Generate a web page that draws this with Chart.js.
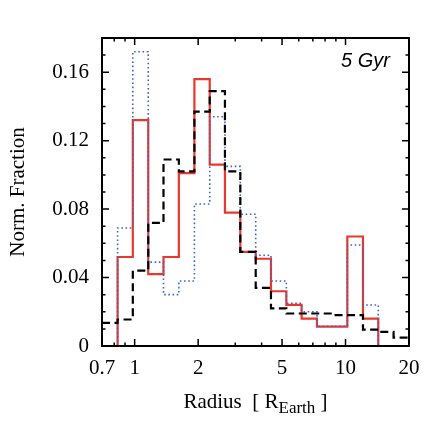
<!DOCTYPE html>
<html>
<head>
<meta charset="utf-8">
<script src="https://cdn.jsdelivr.net/npm/chart.js@4/dist/chart.umd.min.js"></script>
<style>
html,body{margin:0;padding:0;background:#fff;}
canvas{display:block;}
</style>
</head>
<body>
<canvas id="c" width="436" height="425"></canvas>
<script>
// Bin edges (R_Earth), log-spaced histogram bins
const binEdges = [0.70, 0.83, 0.98, 1.16, 1.37, 1.62, 1.92, 2.27, 2.68, 3.17, 3.75,
                  4.43, 5.24, 6.19, 7.32, 8.66, 10.2, 12.1, 14.3, 16.9, 20.0];
// Normalised fractions per bin (null = no bar drawn)
const redValues   = [null, 0.052, 0.132, 0.042, 0.052, 0.101, 0.156, 0.106, 0.078, 0.055, 0.051,
                     0.032, 0.024, 0.016, 0.0113, 0.0113, 0.064, 0.016, null, null];
const blueValues  = [null, 0.069, 0.172, 0.049, 0.030, 0.038, 0.083, 0.134, 0.105, 0.077, 0.053,
                     0.038, 0.025, 0.020, 0.0115, 0.0115, 0.059, 0.024, null, null];
const blackValues = [0.0135, 0.0155, 0.044, 0.072, 0.109, 0.102, 0.137, 0.149, 0.102, 0.055, 0.034,
                     0.022, 0.019, 0.019, 0.019, 0.018, 0.018, 0.0096, 0.0082, 0.0049];
const xTickLabels = [0.7, 1, 2, 5, 10, 20];
const xMajorTicks = [1, 2, 5, 10];
const xMinorTicks = [0.8, 0.9, 3, 4, 6, 7, 8, 9];
const yTickLabels = [0, 0.04, 0.08, 0.12, 0.16];
const yMinorStep = 0.01;
const yMax = 0.18;
const panelLabel = '5 Gyr';

function stepPoints(edges, vals, riseFromZero) {
  const pts = [];
  let first = vals.findIndex(v => v !== null);
  let last = first;
  while (last + 1 < vals.length && vals[last + 1] !== null) last++;
  if (riseFromZero) pts.push({x: edges[first], y: 0});
  for (let i = first; i <= last; i++) pts.push({x: edges[i], y: vals[i]});
  const endEdge = edges[last + 1];
  if (endEdge < edges[edges.length - 1]) pts.push({x: endEdge, y: 0});
  else pts.push({x: endEdge, y: vals[last]});
  return pts;
}

const SERIF = '"Liberation Serif", "DejaVu Serif", serif';

const framePlugin = {
  id: 'frame',
  afterDraw(chart) {
    const ctx = chart.ctx;
    const a = chart.chartArea;
    const xs = chart.scales.x, ys = chart.scales.y;
    ctx.save();
    ctx.strokeStyle = '#000';
    // ticks
    ctx.lineWidth = 1.5;
    const tick = (px, len, horiz) => {
      ctx.beginPath();
      if (horiz) {
        ctx.moveTo(a.left, px); ctx.lineTo(a.left + len, px);
        ctx.moveTo(a.right, px); ctx.lineTo(a.right - len, px);
      } else {
        ctx.moveTo(px, a.bottom); ctx.lineTo(px, a.bottom - len);
        ctx.moveTo(px, a.top); ctx.lineTo(px, a.top + len);
      }
      ctx.stroke();
    };
    for (let v = 0; v <= yMax + 1e-9; v += yMinorStep) {
      const vv = Math.round(v * 100) / 100;
      const major = yTickLabels.some(t => Math.abs(t - vv) < 1e-9);
      tick(ys.getPixelForValue(vv), major ? 7 : 3.5, true);
    }
    xMajorTicks.forEach(v => tick(xs.getPixelForValue(v), 7, false));
    xMinorTicks.forEach(v => tick(xs.getPixelForValue(v), 3.5, false));
    // frame
    ctx.lineWidth = 2;
    ctx.strokeRect(a.left, a.top, a.right - a.left, a.bottom - a.top);
    // panel label
    ctx.fillStyle = '#000';
    ctx.font = 'italic 20px "Liberation Sans", Arial, sans-serif';
    ctx.textAlign = 'right';
    ctx.textBaseline = 'alphabetic';
    ctx.fillText(panelLabel, a.right - 19, a.top + 29);
    // x title with subscript
    const big = '21px ' + SERIF, small = '17px ' + SERIF;
    const t1 = 'Radius  [ R', t2 = 'Earth', t3 = ' ]';
    ctx.font = big; const w1 = ctx.measureText(t1).width, w3 = ctx.measureText(t3).width;
    ctx.font = small; const w2 = ctx.measureText(t2).width;
    const total = w1 + w2 + w3;
    let x0 = (a.left + a.right) / 2 - total / 2;
    const base = 408;
    ctx.textAlign = 'left';
    ctx.font = big; ctx.fillText(t1, x0, base);
    ctx.font = small; ctx.fillText(t2, x0 + w1, base + 5);
    ctx.font = big; ctx.fillText(t3, x0 + w1 + w2, base);
    ctx.restore();
  }
};

new Chart(document.getElementById('c'), {
  type: 'line',
  data: {
    datasets: [
      {
        label: 'red',
        data: stepPoints(binEdges, redValues, true),
        borderColor: '#e8382c', borderWidth: 2.2, stepped: true,
        pointRadius: 0, fill: false, order: 3
      },
      {
        label: 'blue',
        data: stepPoints(binEdges, blueValues, true),
        borderColor: '#4064c8', borderWidth: 1.6, borderDash: [1.6, 2.6], stepped: true,
        pointRadius: 0, fill: false, order: 2
      },
      {
        label: 'black',
        data: stepPoints(binEdges, blackValues, false),
        borderColor: '#000000', borderWidth: 2.2, borderDash: [8, 4.5], stepped: true,
        pointRadius: 0, fill: false, order: 1
      }
    ]
  },
  options: {
    responsive: false,
    animation: false,
    devicePixelRatio: 1,
    layout: { padding: { left: 0, top: 38, right: 27, bottom: 0 } },
    plugins: { legend: { display: false }, tooltip: { enabled: false } },
    scales: {
      x: {
        type: 'logarithmic', min: 0.7, max: 20,
        grid: { display: false, drawTicks: false },
        border: { display: false },
        afterBuildTicks: s => { s.ticks = xTickLabels.map(v => ({ value: v })); },
        afterFit: s => { s.height = 79; },
        ticks: {
          autoSkip: false, maxRotation: 0, padding: 10, color: '#000',
          font: { family: SERIF, size: 21 },
          callback: v => String(v)
        }
      },
      y: {
        type: 'linear', min: 0, max: yMax,
        grid: { display: false, drawTicks: false },
        border: { display: false },
        afterBuildTicks: s => { s.ticks = yTickLabels.map(v => ({ value: v })); },
        afterFit: s => { s.width = 102; },
        ticks: {
          autoSkip: false, padding: 13, color: '#000',
          font: { family: SERIF, size: 21 },
          callback: v => (v === 0 ? '0' : v.toFixed(2))
        },
        title: {
          display: true, text: 'Norm. Fraction', color: '#000',
          font: { family: SERIF, size: 21 },
          padding: { top: 6, bottom: 0 }
        }
      }
    }
  },
  plugins: [framePlugin]
});
</script>
</body>
</html>
